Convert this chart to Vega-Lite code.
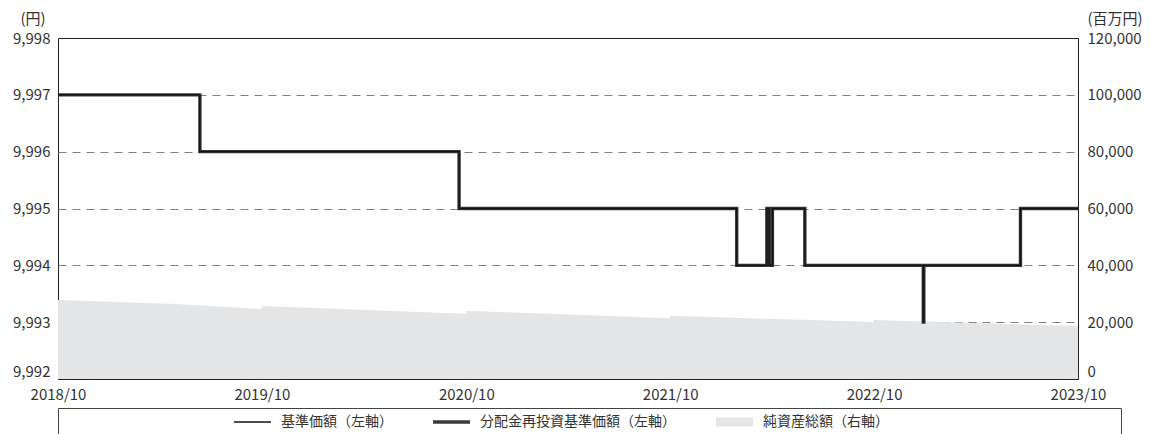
{
  "$schema": "https://vega.github.io/schema/vega-lite/v6.json",
  "width": 1020,
  "height": 341,
  "autosize": {"type": "none"},
  "padding": {"left": 58, "top": 38, "right": 72, "bottom": 55},
  "background": "white",
  "config": {
    "font": "Noto Sans CJK JP",
    "view": {"stroke": "#222222", "strokeWidth": 1},
    "axis": {
      "labelFont": "Noto Sans CJK JP",
      "labelFontSize": 15,
      "labelColor": "#333333",
      "titleFont": "Noto Sans CJK JP",
      "titleFontSize": 15,
      "titleFontWeight": "normal",
      "titleColor": "#333333",
      "domain": false
    }
  },
  "datasets": {
    "assets": [
      {"date": "2018-10-01", "total": 27800},
      {"date": "2019-05-01", "total": 26400},
      {"date": "2019-09-30", "total": 24630},
      {"date": "2019-10-01", "total": 25700},
      {"date": "2020-09-30", "total": 22980},
      {"date": "2020-10-01", "total": 24040},
      {"date": "2021-09-30", "total": 21400},
      {"date": "2021-10-01", "total": 22240},
      {"date": "2022-09-30", "total": 20060},
      {"date": "2022-10-01", "total": 20760},
      {"date": "2023-10-01", "total": 18650}
    ],
    "nav": [
      {"date": "2018-10-01", "nav": 9997, "reinvested": 9997},
      {"date": "2019-06-12", "nav": 9996, "reinvested": 9996},
      {"date": "2020-09-18", "nav": 9995, "reinvested": 9995},
      {"date": "2022-01-28", "nav": 9994, "reinvested": 9994},
      {"date": "2022-03-23", "nav": 9995, "reinvested": 9995},
      {"date": "2022-03-27", "nav": 9994, "reinvested": 9994},
      {"date": "2022-04-02", "nav": 9995, "reinvested": 9995},
      {"date": "2022-05-30", "nav": 9994, "reinvested": 9994},
      {"date": "2022-12-28", "nav": 9993, "reinvested": 9993},
      {"date": "2022-12-29", "nav": 9994, "reinvested": 9994},
      {"date": "2023-06-20", "nav": 9995, "reinvested": 9995},
      {"date": "2023-10-01", "nav": 9995, "reinvested": 9995}
    ]
  },
  "encoding": {
    "x": {
      "field": "date",
      "type": "temporal",
      "scale": {
        "type": "utc",
        "domain": [
          {"year": 2018, "month": 10, "date": 1, "utc": true},
          {"year": 2023, "month": 10, "date": 1, "utc": true}
        ],
        "nice": false
      },
      "axis": {
        "title": null,
        "values": [
          {"year": 2018, "month": 10, "date": 1, "utc": true},
          {"year": 2019, "month": 10, "date": 1, "utc": true},
          {"year": 2020, "month": 10, "date": 1, "utc": true},
          {"year": 2021, "month": 10, "date": 1, "utc": true},
          {"year": 2022, "month": 10, "date": 1, "utc": true},
          {"year": 2023, "month": 10, "date": 1, "utc": true}
        ],
        "labelExpr": "utcFormat(datum.value, '%Y/%m')",
        "grid": false,
        "ticks": true,
        "tickSize": -8,
        "tickColor": "#333333",
        "labelPadding": 16,
        "labelFlush": false,
        "labelOverlap": false
      }
    }
  },
  "layer": [
    {
      "data": {"name": "assets"},
      "mark": {"type": "area", "interpolate": "linear"},
      "encoding": {
        "y": {
          "field": "total",
          "type": "quantitative",
          "scale": {"domain": [0, 120000], "nice": false, "zero": true},
          "axis": {
            "orient": "right",
            "values": [0, 20000, 40000, 60000, 80000, 100000, 120000],
            "format": ",.0f",
            "grid": false,
            "ticks": false,
            "labelPadding": 9,
            "labelBaseline": {"condition": {"test": "datum.value === 0", "value": "bottom"}, "value": "middle"},
            "title": "(百万円)",
            "titleAngle": 0,
            "titleX": 9,
            "titleY": -20,
            "titleAlign": "left",
            "titleBaseline": "middle"
          }
        },
        "color": {
          "datum": "純資産総額（右軸）",
          "scale": {
            "domain": ["基準価額（左軸）", "分配金再投資基準価額（左軸）", "純資産総額（右軸）"],
            "range": ["#111111", "#3a3a3a", "#e4e5e7"]
          },
          "legend": {
            "orient": "none",
            "legendX": 0,
            "legendY": 370,
            "direction": "horizontal",
            "title": "\u200b",
            "titleOrient": "left",
            "titlePadding": 167,
            "titleFontSize": 14,
            "strokeColor": "#444444",
            "padding": 7,
            "symbolType": "stroke",
            "symbolSize": 100,
            "labelFont": "Noto Sans CJK JP",
            "labelFontSize": 14,
            "labelColor": "#333333",
            "labelOffset": 35,
            "columnPadding": 38,
            "labelLimit": 800,
            "values": ["基準価額（左軸）", "分配金再投資基準価額（左軸）", "純資産総額（右軸）"],
            "labelExpr": "datum.label + (datum.value === '純資産総額（右軸）' ? '\u3000\u3000\u3000\u3000\u3000\u3000\u3000\u3000\u3000\u3000\u3000\u3000\u3000\u3000\u3000\u00a0\u00a0\u00a0\u00a0\u00a0\u00a0\u00a0\u200b' : '')",
            "encode": {
              "symbols": {
                "update": {
                  "shape": {"signal": "datum.value === '純資産総額（右軸）' ? 'M-1,-0.9H6.4V0.9H-1Z' : datum.value === '基準価額（左軸）' ? 'M-1,-0.14H6.4V0.14H-1Z' : 'M-1,-0.36H6.4V0.36H-1Z'"},
                  "fill": {"signal": "datum.value === '純資産総額（右軸）' ? '#e4e5e7' : datum.value === '基準価額（左軸）' ? '#111111' : '#3a3a3a'"},
                  "stroke": {"value": "transparent"},
                  "strokeWidth": {"value": 0},
                  "opacity": {"value": 1},
                  "fillOpacity": {"value": 1}
                }
              }
            }
          }
        }
      }
    },
    {
      "data": {"name": "nav"},
      "layer": [
        {
          "mark": {"type": "line", "interpolate": "step-after", "strokeWidth": 3.4},
          "encoding": {
            "y": {
              "field": "reinvested",
              "type": "quantitative",
              "scale": {"domain": [9992, 9998], "nice": false, "zero": false},
              "axis": {
                "orient": "left",
                "values": [9992, 9993, 9994, 9995, 9996, 9997, 9998],
                "format": ",.0f",
                "ticks": false,
                "labelPadding": 8,
                "labelBaseline": {"condition": {"test": "datum.value === 9992", "value": "bottom"}, "value": "middle"},
                "grid": true,
                "gridColor": "#808080",
                "gridDash": [8, 6],
                "gridWidth": 1,
                "gridOpacity": {"condition": {"test": "datum.value === 9998 || datum.value === 9992", "value": 0}, "value": 1},
                "title": "(円)",
                "titleAngle": 0,
                "titleX": -38,
                "titleY": -20,
                "titleAlign": "left",
                "titleBaseline": "middle"
              }
            },
            "color": {"datum": "分配金再投資基準価額（左軸）"}
          }
        },
        {
          "mark": {"type": "line", "interpolate": "step-after", "strokeWidth": 1.3},
          "encoding": {
            "y": {"field": "nav", "type": "quantitative"},
            "color": {"datum": "基準価額（左軸）"}
          }
        }
      ]
    }
  ],
  "resolve": {"scale": {"y": "independent"}}
}
